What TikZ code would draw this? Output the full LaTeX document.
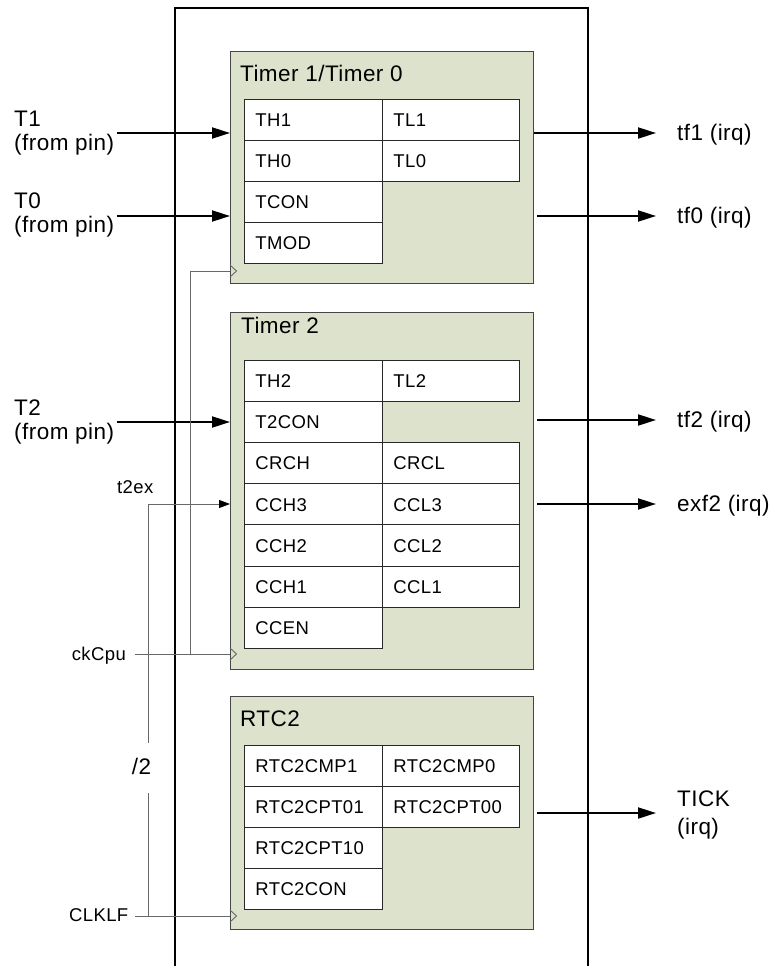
\documentclass[tikz,border=0pt]{standalone}
\usepackage{fontspec}
\setmainfont[LetterSpace=2]{Liberation Sans}
\usetikzlibrary{arrows.meta}
\definecolor{boxgreen}{RGB}{221,226,205}
\definecolor{boxedge}{RGB}{70,70,70}
\definecolor{celledge}{RGB}{40,40,40}
\definecolor{wirecol}{RGB}{105,105,105}
\begin{document}
\begin{tikzpicture}[x=1pt,y=-1pt,
  lbl/.style={font=\fontsize{22.5}{27}\selectfont, inner sep=0pt},
  small/.style={font=\fontsize{18.5}{22}\selectfont, inner sep=0pt},
  grp/.style={draw=boxedge, fill=boxgreen, line width=1pt, anchor=north west, inner sep=0pt, minimum width=303pt},
  cellbase/.style={draw=celledge, fill=white, line width=0.9pt, anchor=north west, minimum height=41pt, inner xsep=11pt, inner ysep=0pt, align=left, font=\fontsize{18.5}{22}\selectfont, text height=13.5pt, text depth=0pt},
  cellL/.style={cellbase, minimum width=138pt, text width=116pt},
  cellR/.style={cellbase, minimum width=137pt, text width=115pt},
  bigarrow/.style={line width=2pt, -{Triangle[length=18pt,width=11pt]}},
  wire/.style={draw=wirecol, line width=0.9pt},
  wirearrow/.style={wire, -{Triangle[length=11pt,width=8pt,color=black]}},
]
\useasboundingbox (0,0) rectangle (775,966);

% outer frame (open at the bottom)
\draw[line width=1.3pt] (175,966) -- (175,8) -- (588,8) -- (588,966);

% group boxes
\node[grp, minimum height=232pt] (tmrA) at (230,51) {};
\node[grp, minimum height=357pt] (tmrB) at (230,312) {};
\node[grp, minimum height=233pt] (rtc) at (230,696) {};

\node[lbl, anchor=base west] (tAt) at (240,81.5) {Timer 1/Timer 0};
\node[lbl, anchor=base west] (tBt) at (241,333) {Timer 2};
\node[lbl, anchor=base west] (rtct) at (240,726) {RTC2};

% Timer 1/Timer 0 registers
\foreach \n/\t [count=\i from 0] in {thA/TH1, thB/TH0, tcon/TCON, tmod/TMOD}
  \node[cellL] (\n) at (244,99+41*\i) {\t};
\foreach \n/\t [count=\i from 0] in {tlA/TL1, tlB/TL0}
  \node[cellR] (\n) at (382,99+41*\i) {\t};

% Timer 2 registers
\foreach \n/\t [count=\i from 0] in {thC/TH2, ttcon/T2CON, crch/CRCH, cchC/CCH3, cchB/CCH2, cchA/CCH1, ccen/CCEN}
  \node[cellL, minimum height=41.1pt] (\n) at (244,360+41.1*\i) {\t};
\node[cellR, minimum height=41.1pt] (tlC) at (382,360) {TL2};
\foreach \n/\t [count=\i from 2] in {crcl/CRCL, cclC/CCL3, cclB/CCL2, cclA/CCL1}
  \node[cellR, minimum height=41.1pt] (\n) at (382,360+41.1*\i) {\t};

% RTC2 registers
\foreach \n/\t [count=\i from 0] in {cmpA/RTC2CMP1, cptA/RTC2CPT01, cptB/RTC2CPT10, rcon/RTC2CON}
  \node[cellL] (\n) at (244,745+41*\i) {\t};
\foreach \n/\t [count=\i from 0] in {cmpB/RTC2CMP0, cptC/RTC2CPT00}
  \node[cellR] (\n) at (382,745+41*\i) {\t};

% input labels
\node[lbl, anchor=base west] (tone) at (14,126) {T1};
\node[lbl, anchor=base west] (tonep) at (14,150.5) {(from pin)};
\node[lbl, anchor=base west] (tzero) at (14,208) {T0};
\node[lbl, anchor=base west] (tzerop) at (14,232.5) {(from pin)};
\node[lbl, anchor=base west] (ttwo) at (14,415) {T2};
\node[lbl, anchor=base west] (ttwop) at (14,439.5) {(from pin)};

% output labels
\node[lbl, anchor=base west] (otf1) at (677,140.5) {tf1 (irq)};
\node[lbl, anchor=base west] (otf0) at (677,223.5) {tf0 (irq)};
\node[lbl, anchor=base west] (otf2) at (677,427) {tf2 (irq)};
\node[lbl, anchor=base west] (oexf) at (677,511) {exf2 (irq)};
\node[lbl, anchor=base west] (otick) at (677,806) {TICK};
\node[lbl, anchor=base west] (otickp) at (677,834) {(irq)};

% input arrows
\coordinate (i1) at (117,133);
\coordinate (i0) at (117,216);
\coordinate (i2) at (117,422);
\draw[bigarrow] (i1) -- (i1 -| tmrA.west);
\draw[bigarrow] (i0) -- (i0 -| tmrA.west);
\draw[bigarrow] (i2) -- (i2 -| tmrB.west);

% output arrows
\coordinate (o1) at (656,133);
\coordinate (o0) at (656,216);
\coordinate (o2) at (656,420);
\coordinate (oe) at (656,504);
\coordinate (ot) at (656,813);
\draw[bigarrow] (o1 -| tmrA.east) -- (o1);
\draw[bigarrow, shorten <=3pt] (o0 -| tmrA.east) -- (o0);
\draw[bigarrow, shorten <=3pt] (o2 -| tmrB.east) -- (o2);
\draw[bigarrow, shorten <=3pt] (oe -| tmrB.east) -- (oe);
\draw[bigarrow, shorten <=3pt] (ot -| rtc.east) -- (ot);

% clock labels
\node[small, anchor=base west] (tex) at (117,493) {t2ex};
\node[small, anchor=base east] (ckcpu) at (126,660) {ckCpu};
\node[small, anchor=base east] (clklf) at (128.5,921) {CLKLF};
\node[lbl, anchor=base] (div) at (141.5,774) {/2};

% ckCpu distribution
\coordinate (ckA) at (230,271);
\coordinate (ckB) at (230,654);
\coordinate (ckS) at (135,654);
\coordinate (ckJ) at (190,654);
\draw[wire] (ckS) -- (ckB);
\draw[wire] (ckJ) |- (ckA);

% CLKLF distribution
\coordinate (ckC) at (230,916);
\coordinate (clS) at (135,916);
\coordinate (clJ) at (148,916);
\coordinate (gapB) at (148,793);
\coordinate (gapT) at (148,743);
\coordinate (t2e) at (230,504);
\draw[wire] (clS) -- (ckC);
\draw[wire] (clJ) -- (gapB);
\draw[wirearrow] (gapT) |- (t2e);

% clock input marks
\foreach \c in {ckA, ckB, ckC}
  \draw[wire] ([yshift=6pt]\c) -- ([xshift=6.5pt]\c) -- ([yshift=-6pt]\c);
\end{tikzpicture}
\end{document}
